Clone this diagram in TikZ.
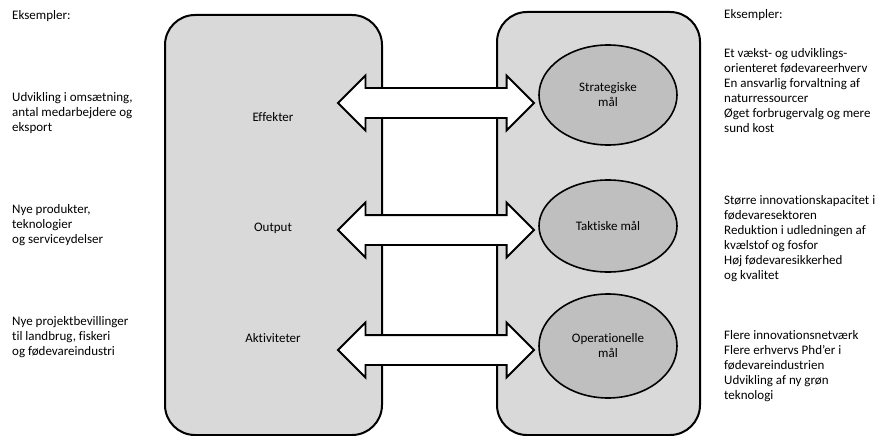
\documentclass[tikz,border=0pt]{standalone}
\usepackage{fontspec}
\setmainfont{Carlito}[Ligatures=NoCommon]
\usetikzlibrary{shapes.geometric,shapes.arrows}
\definecolor{boxgray}{RGB}{217,217,217}
\definecolor{goalgray}{RGB}{191,191,191}

\begin{document}
\begin{tikzpicture}[x=1pt,y=-1pt,
    txt/.style={font=\fontsize{13}{15}\selectfont, inner sep=0pt, align=left, anchor=west},
    lbl/.style={font=\fontsize{13}{15}\selectfont, inner sep=0pt, align=center},
    colbox/.style={draw, line width=2pt, fill=boxgray, rounded corners=30pt},
    goal/.style={ellipse, draw, line width=1.6pt, fill=goalgray, minimum width=138pt, minimum height=100pt, inner sep=0pt, align=center, font=\fontsize{13}{15}\selectfont},
    linkarrow/.style={double arrow, draw, line width=1.8pt, fill=white, minimum height=196pt, double arrow head extend=12.5pt, inner xsep=0pt, inner ysep=14pt}]
    \useasboundingbox (0,0) rectangle (881,436);

    % Columns
    \draw[colbox] (165,15) rectangle (382,435);
    \draw[colbox] (497,12) rectangle (700,435);

    % Left column labels
    \node[lbl] (eff) at (273,117) {Effekter};
    \node[lbl] (out) at (273,228) {Output};
    \node[lbl] (akt) at (273,338) {Aktiviteter};

    % Double arrows between the columns
    \node[linkarrow] (arr1) at (436,103) {};
    \node[linkarrow] (arr2) at (436,230) {};
    \node[linkarrow] (arr3) at (436,350) {};

    % Goals
    \node[goal] (strat) at (608,95) {Strategiske\\mål};
    \node[goal, minimum height=92pt] (takt) at (608,226) {Taktiske mål};
    \node[goal, minimum height=104pt] (oper) at (608,346) {Operationelle\\mål};

    % Examples, left
    \node[txt] (exl) at (12,16) {Eksempler:};
    \node[txt] (exl1) at (12,113) {Udvikling i omsætning,\\antal medarbejdere og\\eksport};
    \node[txt] (exl2) at (12,225) {Nye produkter,\\teknologier\\og serviceydelser};
    \node[txt] (exl3) at (12,337) {Nye projektbevillinger\\til landbrug, fiskeri\\og fødevareindustri};

    % Examples, right
    \node[txt] (exr) at (724,15) {Eksempler:};
    \node[txt] (exr1) at (724,90.5) {Et vækst- og udviklings-\\orienteret fødevareerhverv\\En ansvarlig forvaltning af\\naturressourcer\\Øget forbrugervalg og mere\\sund kost};
    \node[txt] (exr2) at (724,238.5) {Større innovationskapacitet i\\fødevaresektoren\\Reduktion i udledningen af\\kvælstof og fosfor\\Høj fødevaresikkerhed\\og kvalitet};
    \node[txt] (exr3) at (724,366.5) {Flere innovationsnetværk\\Flere erhvervs Phd’er i\\fødevareindustrien\\Udvikling af ny grøn\\teknologi};
\end{tikzpicture}
\end{document}
